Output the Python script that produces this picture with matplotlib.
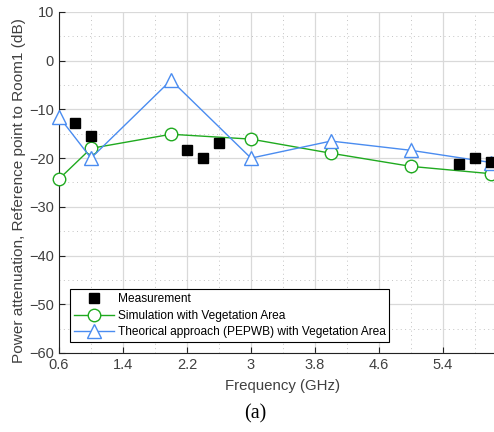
import numpy as np
import matplotlib.pyplot as plt
from matplotlib.ticker import FixedLocator, MultipleLocator

plt.rcParams['font.family'] = ['Liberation Sans', 'DejaVu Sans']

# measurement points
f_meas = [0.8, 1.0, 2.2, 2.4, 2.6, 5.6, 5.8, 6.0]
p_meas = [-12.7, -15.4, -18.4, -20.0, -16.8, -21.2, -19.9, -20.8]

# simulation / theory
f_sim = [0.6, 1.0, 2.0, 3.0, 4.0, 5.0, 6.0]
p_sim = [-24.3, -18.0, -15.1, -16.1, -19.0, -21.7, -23.2]
p_theo = [-11.5, -20.0, -4.0, -20.0, -16.5, -18.4, -20.9]

xticks = [0.6, 1.4, 2.2, 3.0, 3.8, 4.6, 5.4]
xtlabels = ['0.6', '1.4', '2.2', '3', '3.8', '4.6', '5.4']
xminor = [1.0, 1.8, 2.6, 3.4, 4.2, 5.0, 5.8]

green = '#1faa1f'
blue = '#4a8cf0'
grey = '#404040'

fig = plt.figure(figsize=(4.94, 4.32), dpi=100)
ax = fig.add_axes([0.1194, 0.1829, 0.907, 0.7894])

ax.plot(f_meas, p_meas, 's', color='black', ms=6.5, label='Measurement', clip_on=False, zorder=4)
ax.plot(f_sim, p_sim, '-o', color=green, lw=1, ms=9, mfc='white', mew=1,
        label='Simulation with Vegetation Area', clip_on=False, zorder=3)
ax.plot(f_sim, p_theo, '-^', color=blue, lw=1, ms=10, mfc='white', mew=1,
        label='Theorical approach (PEPWB) with Vegetation Area', clip_on=False, zorder=3)

ax.set_xlim(0.6, 6.2)
ax.set_ylim(-60, 10)
ax.set_xticks(xticks)
ax.set_xticklabels(xtlabels)
ax.set_yticks(np.arange(-60, 11, 10))
ax.xaxis.set_minor_locator(FixedLocator(xminor))
ax.yaxis.set_minor_locator(MultipleLocator(5))

ax.grid(which='major', color='#d9d9d9', lw=0.9)
ax.grid(which='minor', color='#c4c4c4', lw=0.7, ls=(0, (1, 3.5)))
ax.set_axisbelow(True)

for s in ['top', 'right']:
    ax.spines[s].set_visible(False)
ax.spines['left'].set_color('#222222')
ax.spines['bottom'].set_color('#222222')
ax.tick_params(which='both', direction='in', colors='#222222', labelcolor=grey, labelsize=10.5)
ax.tick_params(which='major', length=4)
ax.tick_params(which='minor', length=0)

ax.set_xlabel('Frequency (GHz)', fontsize=10.8, color=grey, labelpad=5)
ax.set_ylabel('Power attenuation, Reference point to Room1 (dB)', fontsize=11.1, color=grey)
ax.yaxis.set_label_coords(-0.074, 0.475)

leg = ax.legend(loc='lower left', bbox_to_anchor=(0.025, 0.032), borderaxespad=0,
                fontsize=8.6, fancybox=False, framealpha=1, edgecolor='black',
                handlelength=3.4, borderpad=0.3, labelspacing=0.4, handletextpad=0.3)
leg.get_frame().set_linewidth(0.8)

fig.text(0.5175, 0.043, '(a)', fontsize=14.5, family='Liberation Serif', ha='center', va='center')

fig.savefig('out.png', dpi=100)
